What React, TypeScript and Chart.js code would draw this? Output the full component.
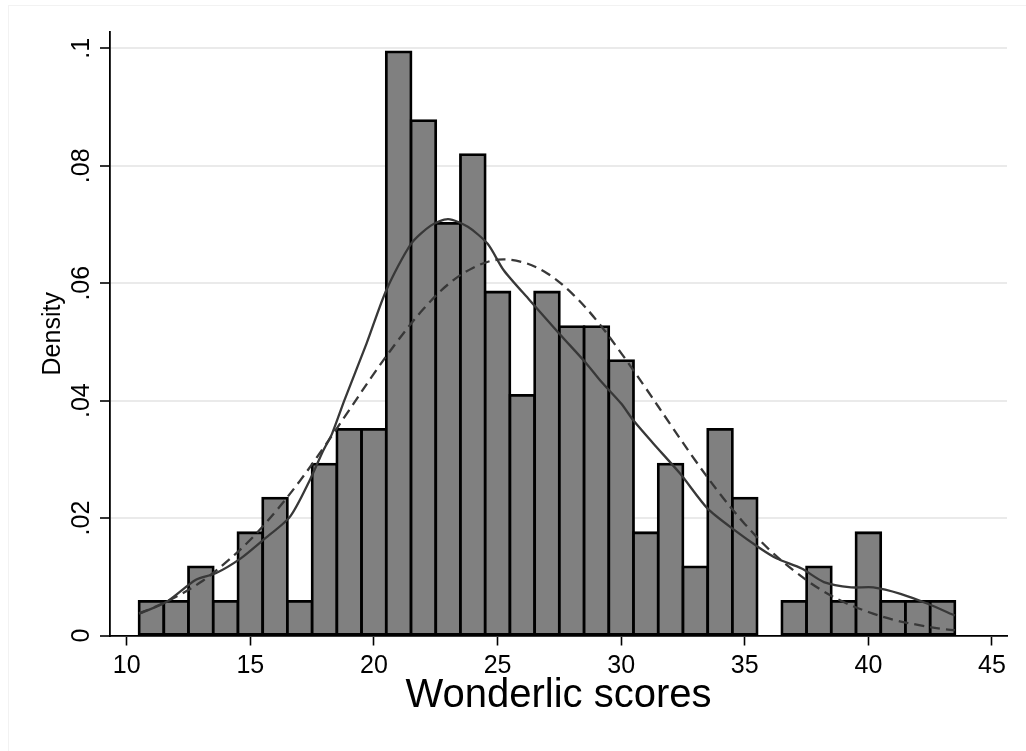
import { useEffect, useRef } from "react";
import { Chart, registerables } from "chart.js";

Chart.register(...registerables);

// Histogram bins (centres) and their densities
const binCenters = [11, 12, 13, 14, 15, 16, 17, 18, 19, 20, 21, 22, 23, 24, 25, 26, 27, 28, 29, 30, 31, 32, 33, 34, 35, 36, 37, 38, 39, 40, 41, 42, 43];
const binDensity = [0.0058, 0.0058, 0.0117, 0.0058, 0.0175, 0.0234, 0.0058, 0.0292, 0.0351, 0.0351, 0.0994, 0.0877, 0.0702, 0.0819, 0.0585, 0.0409, 0.0585, 0.0526, 0.0526, 0.0468, 0.0175, 0.0292, 0.0117, 0.0351, 0.0234, 0, 0.0058, 0.0117, 0.0058, 0.0175, 0.0058, 0.0058, 0.0058];

// Kernel density (solid line)
const kernelX = [10.5, 11.6, 12.8, 13.6, 14.6, 15.5, 16.6, 17.4, 17.95, 18.3, 18.8, 19.7, 20.5, 21.5, 22.3, 23.0, 23.8, 24.6, 25.25, 26.3, 27.5, 28.6, 29.2, 30.0, 30.5, 31.3, 32.4, 33.5, 34.6, 35.6, 36.3, 37.3, 38.2, 39.3, 40.2, 41.3, 42.4, 43.5];
const kernelY = [0.0037, 0.0057, 0.0095, 0.0106, 0.0131, 0.0162, 0.0202, 0.0264, 0.0315, 0.0343, 0.0400, 0.0497, 0.0588, 0.0667, 0.0698, 0.0709, 0.0696, 0.0667, 0.0622, 0.0571, 0.0514, 0.0463, 0.0432, 0.0395, 0.0366, 0.0327, 0.0275, 0.0216, 0.0179, 0.0149, 0.0131, 0.0114, 0.0091, 0.0082, 0.0082, 0.0071, 0.0054, 0.0034];

// Normal density (dashed line)
const normalX = [10.5, 11, 12, 13, 14, 15, 16, 17, 18, 19, 20, 21, 22, 23, 24, 25, 26, 27, 28, 29, 30, 31, 32, 33, 34, 35, 36, 37, 38, 39, 40, 41, 42, 43, 43.5];
const normalY = [0.0038, 0.0046, 0.0066, 0.0091, 0.0124, 0.0163, 0.0210, 0.0263, 0.0322, 0.0384, 0.0446, 0.0504, 0.0556, 0.0598, 0.0626, 0.0640, 0.0636, 0.0617, 0.0583, 0.0537, 0.0481, 0.0421, 0.0359, 0.0298, 0.0241, 0.0190, 0.0146, 0.0110, 0.0080, 0.0057, 0.0040, 0.0027, 0.0018, 0.0011, 0.0009];

const xTicks = [10, 15, 20, 25, 30, 35, 40, 45];
const yTicks = [0, 0.02, 0.04, 0.06, 0.08, 0.1];
const yTickLabels = ["0", ".02", ".04", ".06", ".08", ".1"];
const xTitle = "Wonderlic scores";
const yTitle = "Density";

const FONT = "'Liberation Sans', Arial, Helvetica, sans-serif";

export default function App() {
  const ref = useRef<HTMLCanvasElement>(null);

  useEffect(() => {
    const canvas = ref.current;
    if (!canvas) return;
    const chart = new Chart(canvas, {
      type: "bar",
      data: {
        datasets: [
          {
            type: "line",
            data: kernelX.map((x, i) => ({ x, y: kernelY[i] })),
            borderColor: "#383838",
            borderWidth: 2.3,
            pointRadius: 0,
            tension: 0.25,
            fill: false,
          },
          {
            type: "line",
            data: normalX.map((x, i) => ({ x, y: normalY[i] })),
            borderColor: "#383838",
            borderWidth: 2.3,
            borderDash: [10, 6],
            pointRadius: 0,
            tension: 0.35,
            fill: false,
          },
          {
            type: "bar",
            data: binCenters
              .map((x, i) => ({ x, y: binDensity[i] }))
              .filter((d) => d.y > 0),
            backgroundColor: "#808080",
            borderColor: "#000000",
            borderWidth: 2.8,
            inflateAmount: 1.4,
            borderSkipped: false,
            barPercentage: 1,
            categoryPercentage: 1,
          } as any,
        ],
      },
      options: {
        animation: false,
        responsive: true,
        maintainAspectRatio: false,
        events: [],
        layout: { padding: { top: 32, right: 19, left: 0, bottom: 0 } },
        plugins: {
          legend: { display: false },
          tooltip: { enabled: false },
        },
        scales: {
          x: {
            type: "linear",
            min: 9.3245,
            max: 45.607,
            offset: false,
            z: 1,
            afterBuildTicks: (s: any) => {
              s.ticks = xTicks.map((v) => ({ value: v }));
            },
            afterFit: (s: any) => {
              s.height = 115.5;
            },
            grid: {
              display: true,
              offset: false,
              drawOnChartArea: false,
              drawTicks: true,
              tickLength: 10,
              tickColor: "#000000",
              tickWidth: 1.6,
            },
            border: { display: true, color: "#000000", width: 1.8 },
            ticks: {
              color: "#000000",
              font: { family: FONT, size: 25 },
              padding: 5.5,
              minRotation: 0,
              maxRotation: 0,
              autoSkip: false,
              callback: (v: any) => String(v),
            },
            title: {
              display: true,
              text: xTitle,
              color: "#000000",
              font: { family: FONT, size: 40 },
              padding: { top: 0, bottom: 31 },
            },
          },
          y: {
            type: "linear",
            min: 0,
            max: 0.10278,
            afterBuildTicks: (s: any) => {
              s.ticks = yTicks.map((v) => ({ value: v }));
            },
            afterFit: (s: any) => {
              s.width = 110;
            },
            grid: {
              color: "#eaeaea",
              lineWidth: 2,
              drawTicks: true,
              tickLength: 10,
              tickColor: "#000000",
              tickWidth: 1.6,
            },
            border: { display: true, color: "#000000", width: 1.8 },
            ticks: {
              color: "#000000",
              font: { family: FONT, size: 25 },
              padding: 1,
              minRotation: 90,
              maxRotation: 90,
              crossAlign: "center",
              autoSkip: false,
              callback: (_v: any, i: number) => yTickLabels[i],
            },
            title: {
              display: true,
              text: yTitle,
              color: "#000000",
              font: { family: FONT, size: 25 },
              padding: { top: 38, bottom: 0 },
            },
          },
        },
      } as any,
    });
    return () => chart.destroy();
  }, []);

  return (
    <div style={{ position: "absolute", left: 0, top: 0, width: 1026, height: 751, background: "#ffffff", overflow: "hidden" }}>
      <div
        style={{
          position: "absolute",
          left: 8,
          top: 5,
          width: 1100,
          height: 800,
          border: "1px solid #f2f2f2",
          boxSizing: "border-box",
        }}
      />
      <div style={{ position: "absolute", left: 0, top: 0, width: 1026, height: 751 }}>
        <canvas ref={ref} />
      </div>
    </div>
  );
}
